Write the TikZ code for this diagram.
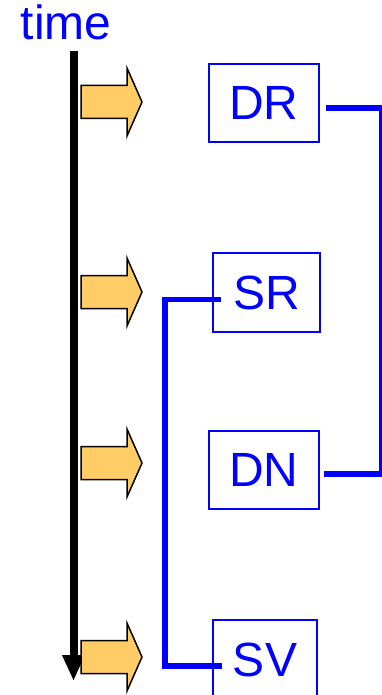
\documentclass[tikz,border=0pt]{standalone}
\usepackage{fontspec}
\setmainfont{Liberation Sans}
\usepackage{xcolor}
\usepackage{tikz}
\usetikzlibrary{arrows.meta}

\definecolor{arrowfill}{RGB}{255,204,102}

\tikzset{
  stagebox/.style={draw=blue, line width=1.8pt, text=blue, inner sep=0pt,
    font=\fontsize{48}{58}\selectfont},
  link/.style={draw=blue, line width=5.5pt},
  timeline/.style={line width=8pt, -{Triangle[length=26pt,width=21pt]}},
  blockarrow/.style={fill=arrowfill, line width=1.5pt, line join=miter}
}

\begin{document}
\begin{tikzpicture}[x=1pt,y=-1pt]
\useasboundingbox (0,0) rectangle (382,695);

\node[text=blue, inner sep=0pt, anchor=base, font=\fontsize{48}{58}\selectfont] (time) at (66,40) {time};

\coordinate (t0) at (73.5,51);
\coordinate (t1) at (73.5,681);
\draw[timeline] (t0) -- (t1);

\foreach \y in {102,292,463,657}
  \draw[blockarrow] (81,\y) ++(0,-16.5) -- ++(46,0) -- ++(0,-17.5) -- ++(15,34)
    -- ++(-15,34) -- ++(0,-17.5) -- ++(-46,0) -- cycle;

\node[stagebox, minimum width=110pt, minimum height=78pt] (DR) at (264,103) {DR};
\node[stagebox, minimum width=107pt, minimum height=79pt] (SR) at (266.5,292.5) {SR};
\node[stagebox, minimum width=110pt, minimum height=78pt] (DN) at (264,470) {DN};
\node[stagebox, minimum width=104pt, minimum height=80pt] (SV) at (265,660) {SV};

\coordinate (busR) at (382,290);
\coordinate (busL) at (165,480);
\draw[link] ([xshift=6pt,yshift=-5pt]DR.east) -| (busR) |- ([xshift=4pt,yshift=-4pt]DN.east);
\draw[link] ([xshift=9pt,yshift=-7pt]SR.west) -| (busL) |- ([xshift=10pt,yshift=-6pt]SV.west);
\end{tikzpicture}
\end{document}
